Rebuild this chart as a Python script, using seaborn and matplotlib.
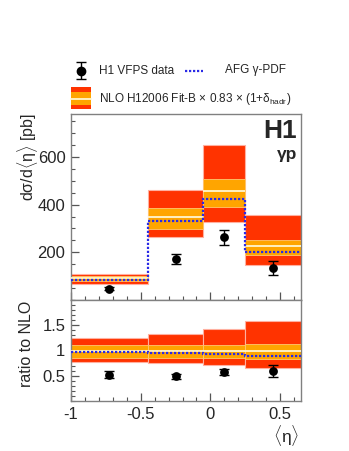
import numpy as np
import pandas as pd
import matplotlib
matplotlib.use("Agg")
import matplotlib.pyplot as plt
import seaborn as sns
from matplotlib.patches import Rectangle
from matplotlib.ticker import MultipleLocator

# ---------------- data ----------------
bin_edges = [-1.0, -0.45, -0.05, 0.25, 0.65]
eta_mean = [-0.73, -0.25, 0.10, 0.45]
xsec = [48, 173, 263, 133]
xsec_err = [8, 20, 32, 30]
nlo_central = [91, 348, 456, 225]
nlo_scale_up = [102, 386, 508, 253]
nlo_scale_dn = [78, 298, 389, 187]
nlo_tot_up = [111, 460, 649, 358]
nlo_tot_dn = [69, 265, 327, 148]
afg = [85, 330, 424, 202]

ratio = [0.52, 0.49, 0.58, 0.59]
ratio_err = [0.07, 0.05, 0.06, 0.12]
ratio_scale_up = [1.10, 1.10, 1.10, 1.12]
ratio_scale_dn = [0.86, 0.86, 0.85, 0.83]
ratio_tot_up = [1.25, 1.32, 1.42, 1.58]
ratio_tot_dn = [0.78, 0.76, 0.71, 0.66]
afg_ratio = [0.97, 0.96, 0.94, 0.90]

# ---------------- style ----------------
sns.set_style("ticks")
plt.rcParams['font.family'] = ['Liberation Sans', 'DejaVu Sans']
plt.rcParams['mathtext.fontset'] = 'custom'
plt.rcParams['mathtext.rm'] = 'Liberation Sans'
plt.rcParams['mathtext.it'] = 'Liberation Sans'
plt.rcParams['axes.unicode_minus'] = False

RED = '#ff3300'
ORANGE = '#ffa500'
BLUE = '#2a2ae6'
FRAME = '#808080'

W, H = 349, 451
fig = plt.figure(figsize=(W / 100, H / 100), dpi=100)

def fx(px):
    return px / W

def fy(py):
    return 1 - py / H

left, right = 71, 301
ax1 = fig.add_axes([fx(left), fy(300), fx(right - left), fy(114) - fy(300)])
ax2 = fig.add_axes([fx(left), fy(401), fx(right - left), fy(300) - fy(401)])

edges = np.array(bin_edges)
widths = np.diff(edges)

def draw_band(ax, tot_dn, tot_up, sc_dn, sc_up, central, blue):
    tot_dn = np.array(tot_dn); tot_up = np.array(tot_up)
    sc_dn = np.array(sc_dn); sc_up = np.array(sc_up)
    ax.bar(edges[:-1], tot_up - tot_dn, bottom=tot_dn, width=widths, align='edge',
           color=RED, edgecolor='#ffb0a0', linewidth=0.8, zorder=1)
    ax.bar(edges[:-1], sc_up - sc_dn, bottom=sc_dn, width=widths, align='edge',
           color=ORANGE, edgecolor='#ffc870', linewidth=0.6, zorder=2)
    ax.hlines(central, edges[:-1], edges[1:], color='#fff6d0', lw=1.3, zorder=3)
    ax.stairs(blue, edges, baseline=None, color=BLUE, ls=(0, (1, 0.8)), lw=1.6, zorder=4)

def draw_points(ax, y, yerr):
    df = pd.DataFrame({'eta': eta_mean, 'y': y})
    ax.errorbar(eta_mean, y, yerr=yerr, fmt='none', ecolor='black', elinewidth=1.0,
                capsize=3.5, capthick=1.0, zorder=5)
    sns.scatterplot(data=df, x='eta', y='y', ax=ax, color='black', s=40,
                    edgecolor='black', linewidth=0, zorder=6, legend=False)

draw_band(ax1, nlo_tot_dn, nlo_tot_up, nlo_scale_dn, nlo_scale_up, nlo_central, afg)
draw_points(ax1, xsec, xsec_err)
draw_band(ax2, ratio_tot_dn, ratio_tot_up, ratio_scale_dn, ratio_scale_up,
          [1, 1, 1, 1], afg_ratio)
draw_points(ax2, ratio, ratio_err)

ax1.set_xlim(-1, 0.65)
ax2.set_xlim(-1, 0.65)
ax1.set_ylim(0, 780)
ax2.set_ylim(0, 2.0)

for ax in (ax1, ax2):
    ax.set_xlabel('')
    ax.set_ylabel('')
    for s in ax.spines.values():
        s.set_color(FRAME)
        s.set_linewidth(1.0)
    ax.tick_params(which='both', direction='in', top=False, right=False,
                   color='#555555', labelsize=12, pad=4)
    ax.tick_params(which='major', length=6, width=0.9)
    ax.tick_params(which='minor', length=3, width=0.8)
    ax.xaxis.set_major_locator(MultipleLocator(0.5))
    ax.xaxis.set_minor_locator(MultipleLocator(0.1))

ax1.yaxis.set_major_locator(MultipleLocator(200))
ax1.yaxis.set_minor_locator(MultipleLocator(50))
ax1.set_yticks([200, 400, 600])
ax1.tick_params(axis='x', labelbottom=False)

ax2.yaxis.set_major_locator(MultipleLocator(0.5))
ax2.yaxis.set_minor_locator(MultipleLocator(0.1))
ax2.set_yticks([0.5, 1.0, 1.5])
ax2.set_yticklabels(['0.5', '1', '1.5'])
ax2.set_xticks([-1, -0.5, 0, 0.5])
ax2.set_xticklabels(['-1', '-0.5', '0', '0.5'])

# axis titles
fig.text(fx(27), fy(113), 'd\u03c3/d$\\langle\\eta\\rangle$ [pb]', rotation=90,
         ha='center', va='top', fontsize=11.5)
fig.text(fx(27), fy(301), 'ratio to NLO', rotation=90, ha='center', va='top', fontsize=11.5)
fig.text(fx(299), fy(435), '$\\langle\\eta\\rangle$', ha='right', va='center', fontsize=12.5)

# H1 label
fig.text(fx(297), fy(138), 'H1', ha='right', va='baseline',
         fontsize=19, fontweight='bold')
fig.text(fx(297), fy(159.5), '\u03b3p', ha='right', va='baseline',
         fontsize=12.5, fontweight='bold')

# legend (drawn manually in figure coords)
lax = fig.add_axes([0, 0, 1, 1], zorder=10)
lax.set_xlim(0, W)
lax.set_ylim(H, 0)
lax.axis('off')
lax.errorbar([80.5], [70.5], yerr=[[8.5], [8.5]], fmt='o', color='black', ms=6,
             elinewidth=1.0, capsize=3.5, capthick=1.0)
lax.plot([185, 203], [70.5, 70.5], color=BLUE, ls=(0, (1, 0.8)), lw=1.6)
lax.add_patch(Rectangle((71, 87.3), 20, 22, facecolor=RED, edgecolor='none'))
lax.add_patch(Rectangle((71, 91.7), 20, 13.3, facecolor=ORANGE, edgecolor='none'))
lax.plot([71, 91], [98.7, 98.7], color='#fff6d0', lw=1.3)
lax.text(99, 70.5, 'H1 VFPS data', ha='left', va='center', fontsize=8.5)
lax.text(225, 70.5, 'AFG \u03b3-PDF', ha='left', va='center', fontsize=8.5)
lax.text(99, 99, 'NLO H12006 Fit-B \u00d7 0.83 \u00d7 (1+\u03b4$_{\\mathrm{hadr}}$)',
         ha='left', va='center', fontsize=8.5)

fig.savefig('out.png', dpi=100)
